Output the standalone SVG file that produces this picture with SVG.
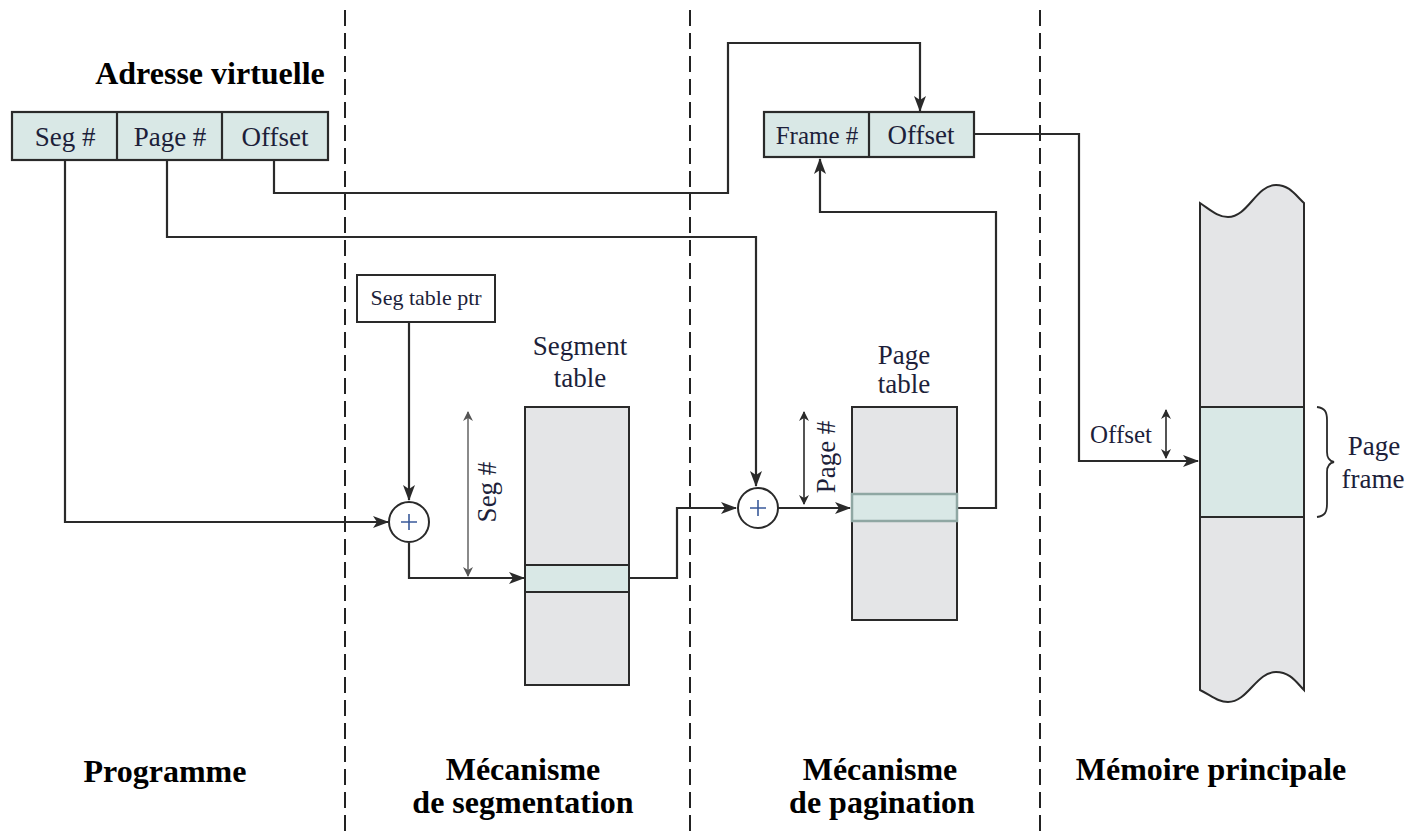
<svg xmlns="http://www.w3.org/2000/svg" width="1416" height="832" viewBox="0 0 1416 832">
<style>
.bg{fill:#ffffff}
.div{stroke:#222;stroke-width:2;stroke-dasharray:16 7;fill:none}
.box{fill:#d9e8e6;stroke:#2a2a2a;stroke-width:2.2}
.wbox{fill:#ffffff;stroke:#2a2a2a;stroke-width:2}
.tbl{fill:#e4e5e7;stroke:#2a2a2a;stroke-width:2}
.row{fill:#d9e8e6;stroke:#2a2a2a;stroke-width:2}
.rowp{fill:#d9e8e6;stroke:#8fa7a3;stroke-width:2.5}
.ln{fill:none;stroke:#2a2a2a;stroke-width:2.2}
.dim{fill:none;stroke:#2a2a2a;stroke-width:1.6}
.dimg{fill:none;stroke:#8a8a8a;stroke-width:2}
.t{font-family:"Liberation Serif","Times New Roman",serif;font-size:27px;fill:#1d1f3a}
.ts{font-family:"Liberation Serif","Times New Roman",serif;font-size:22px;fill:#1d1f3a}
.b{font-family:"Liberation Serif","Times New Roman",serif;font-size:32px;font-weight:bold;fill:#000}
.c{text-anchor:middle}
</style>
<defs>
<marker id="ah" markerWidth="16" markerHeight="12" refX="15" refY="6" orient="auto" markerUnits="userSpaceOnUse">
<path d="M0,0 L16,6 L0,12 L4,6 z" fill="#2a2a2a"/>
</marker>
<marker id="sa" markerWidth="10" markerHeight="10" refX="9" refY="5" orient="auto-start-reverse" markerUnits="userSpaceOnUse">
<path d="M0,0 L10,5 L0,10 L3,5 z" fill="#2a2a2a"/>
</marker>
<marker id="sag" markerWidth="10" markerHeight="10" refX="9" refY="5" orient="auto-start-reverse" markerUnits="userSpaceOnUse">
<path d="M0,0 L10,5 L0,10 L3,5 z" fill="#555"/>
</marker>
</defs>
<rect class="bg" x="0" y="0" width="1416" height="832"/>

<g id="dividers">
<line class="div" x1="345" y1="10" x2="345" y2="832"/>
<line class="div" x1="690" y1="10" x2="690" y2="832"/>
<line class="div" x1="1040" y1="10" x2="1040" y2="832"/>
</g>

<g id="labels">
<text class="b c" x="210" y="84">Adresse virtuelle</text>
<text class="b c" x="165" y="782">Programme</text>
<text class="b c" x="523" y="780">Mécanisme</text>
<text class="b c" x="523" y="813">de segmentation</text>
<text class="b c" x="880" y="780">Mécanisme</text>
<text class="b c" x="882" y="813">de pagination</text>
<text class="b c" x="1211" y="780">Mémoire principale</text>
</g>

<g id="connectors">
<path class="ln" d="M65,160 V522 H388" marker-end="url(#ah)"/>
<path class="ln" d="M167,160 V237 H756 V486" marker-end="url(#ah)"/>
<path class="ln" d="M274,160 V193 H728 V43 H920 V111" marker-end="url(#ah)"/>
<path class="ln" d="M409,322 V500" marker-end="url(#ah)"/>
<path class="ln" d="M409,543 V578 H524" marker-end="url(#ah)"/>
<path class="ln" d="M629,578 H677 V508 H736" marker-end="url(#ah)"/>
<path class="ln" d="M778,508 H850" marker-end="url(#ah)"/>
<path class="ln" d="M957,508 H996 V212 H820 V159" marker-end="url(#ah)"/>
<path class="ln" d="M974,134 H1079 V461 H1198" marker-end="url(#ah)"/>
<line class="dimg" x1="468" y1="412" x2="468" y2="576" marker-start="url(#sag)" marker-end="url(#sag)"/>
<line class="dim" x1="804" y1="412" x2="804" y2="504" marker-start="url(#sa)" marker-end="url(#sa)"/>
<line class="dim" x1="1166" y1="410" x2="1166" y2="458" marker-start="url(#sa)" marker-end="url(#sa)"/>
</g>

<g id="virtual-address">
<rect class="box" x="12" y="112" width="316" height="48"/>
<line class="ln" x1="117" y1="112" x2="117" y2="160"/>
<line class="ln" x1="222" y1="112" x2="222" y2="160"/>
<text class="t c" x="65" y="146">Seg #</text>
<text class="t c" x="170" y="146">Page #</text>
<text class="t c" x="275" y="146">Offset</text>
</g>

<g id="real-address">
<rect class="box" x="764" y="112" width="210" height="45"/>
<line class="ln" x1="869" y1="112" x2="869" y2="157"/>
<text class="t c" x="817" y="144" style="font-size:25px">Frame #</text>
<text class="t c" x="921" y="144">Offset</text>
</g>

<g id="seg-table-ptr">
<rect class="wbox" x="357" y="275" width="138" height="47"/>
<text class="ts c" x="426" y="305">Seg table ptr</text>
</g>

<g id="adder1">
<circle cx="409" cy="522" r="20" fill="#fff" stroke="#2a2a2a" stroke-width="2"/>
<path d="M401,522 H417 M409,514 V530" stroke="#3a5a9a" stroke-width="1.6"/>
</g>

<g id="segment-table">
<text class="t c" x="580" y="355">Segment</text>
<text class="t c" x="580" y="387">table</text>
<rect class="tbl" x="525" y="407" width="104" height="278"/>
<rect class="row" x="525" y="565" width="104" height="27"/>
<text class="t" transform="translate(496,492) rotate(-90)" text-anchor="middle">Seg #</text>
</g>

<g id="adder2">
<circle cx="758" cy="508" r="20" fill="#fff" stroke="#2a2a2a" stroke-width="2"/>
<path d="M750,508 H766 M758,500 V516" stroke="#3a5a9a" stroke-width="1.6"/>
</g>

<g id="page-table">
<text class="t c" x="904" y="364">Page</text>
<text class="t c" x="904" y="393">table</text>
<rect class="tbl" x="852" y="407" width="105" height="213"/>
<rect class="rowp" x="852" y="494" width="105" height="27"/>
<text class="t" transform="translate(835,457) rotate(-90)" text-anchor="middle">Page #</text>
</g>

<g id="main-memory">
<path class="tbl" d="M1200,203 C1212,211 1218,217 1228,217 C1248,217 1256,185 1276,185 C1290,185 1296,196 1304,203 V690 C1296,682 1290,672 1276,672 C1256,672 1248,702 1228,702 C1218,702 1212,696 1200,690 Z"/>
<rect class="row" x="1200" y="407" width="104" height="110"/>
<text class="t" x="1152" y="443" text-anchor="end" style="font-size:25px">Offset</text>
<path d="M1317,407 C1325,408 1327,412 1327,420 V452 C1327,458 1329,461 1334,462 C1329,463 1327,466 1327,472 V504 C1327,512 1325,516 1317,517" fill="none" stroke="#2a2a2a" stroke-width="1.8"/>
<text class="t c" x="1374" y="455">Page</text>
<text class="t c" x="1373" y="488">frame</text>
</g>
</svg>
